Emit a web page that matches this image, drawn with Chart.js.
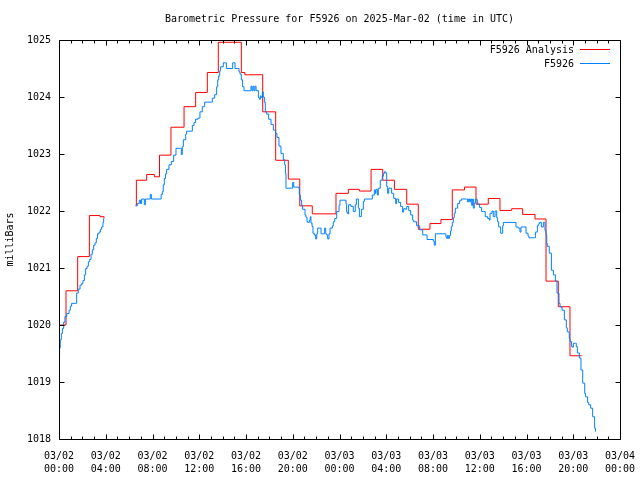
<!DOCTYPE html>
<html>
<head>
<meta charset="utf-8">
<title>Barometric Pressure for F5926</title>
<script src="https://cdn.jsdelivr.net/npm/chart.js@4.4.1/dist/chart.umd.min.js"></script>
<style>
  html, body { margin: 0; padding: 0; background: #fff; }
  #chart { display: block; }
</style>
</head>
<body>
<canvas id="chart" width="640" height="480"></canvas>
<script>
// times are hours since 2025-03-02 00:00 UTC, null value = no data
const analysisHours = [0, 0.6, 1.6, 2.6, 3.5, 3.85, 5,
  6.55, 6.62, 7.5, 8.16, 8.6, 9.58, 10.7, 11.69, 12.69, 13.63, 15.6, 15.9, 17.43, 18.54, 19.62,
  20.6, 21.67, 23.7, 24.76, 25.7, 26.7, 27.7, 28.7, 29.75, 30.74, 31.74, 32.68, 33.65, 34.7,
  35.68, 36.73, 37.73, 38.73, 39.67, 40.73, 41.67, 42.72, 43.72, 44.72];
const analysisValues = [1020.0, 1020.6, 1021.2, 1021.92, 1021.9, 1021.87, null,
  1022.1, 1022.54, 1022.64, 1022.6, 1022.98, 1023.47, 1023.83, 1024.08, 1024.43, 1024.96, 1024.43, 1024.39, 1023.74, 1022.89, 1022.56,
  1022.09, 1021.95, 1022.31, 1022.38, 1022.35, 1022.73, 1022.54, 1022.38, 1022.12, 1021.68, 1021.78, 1021.85, 1022.37, 1022.42,
  1022.12, 1022.22, 1022.01, 1022.04, 1021.94, 1021.86, 1020.77, 1020.32, 1019.46, 1019.46];

const obsHours = [0, 0.05, 0.11, 0.2, 0.29, 0.4, 0.51, 0.66, 0.86, 0.97, 1.08, 1.43, 1.51, 1.65, 1.8, 1.95,
  2.05, 2.17, 2.28, 2.4, 2.51, 2.62, 2.74, 2.85, 2.97, 3.08, 3.19, 3.3, 3.42, 3.54, 3.65, 3.76, 3.82, 5,
  6.56, 6.7, 6.87, 6.97, 7.07, 7.3, 7.39, 7.73, 7.81, 7.9, 8.64, 8.74, 8.84, 8.92, 9.01, 9.11, 9.21, 9.41,
  9.61, 9.81, 10.01, 10.41, 10.47, 10.55, 10.64, 10.84, 10.92, 11.21, 11.41, 11.55, 11.69, 11.89, 12.06,
  12.26, 12.46, 13.03, 13.12, 13.32, 13.49, 13.58, 13.66, 13.75, 13.83, 14.06, 14.23, 14.32, 14.63, 14.86,
  14.97, 15.06, 15.26, 15.4, 15.49, 15.6, 15.71, 15.83, 16.34, 16.43, 16.51, 16.6, 16.68, 16.77, 16.86,
  17.06, 17.14, 17.23, 17.31, 17.4, 17.48, 17.57, 17.65, 17.77, 17.94, 18.14, 18.34, 18.54, 18.65, 18.82,
  18.99, 19.19, 19.31, 19.37, 19.42, 19.91, 19.99, 20.08, 20.51, 20.56, 20.65, 20.76, 20.85, 21.05, 21.13,
  21.22, 21.3, 21.42, 21.5, 21.56, 21.65, 21.73, 21.85, 21.96, 22.05, 22.13, 22.33, 22.42, 22.62, 22.73,
  22.82, 22.9, 22.99, 23.1, 23.19, 23.39, 23.47, 23.59, 23.76, 23.96, 24.04, 24.47, 24.56, 24.61, 24.7,
  24.78, 24.98, 25.18, 25.35, 25.44, 25.61, 25.7, 25.87, 26.04, 26.13, 26.61, 26.81, 26.98, 27.07, 27.12,
  27.24, 27.32, 27.49, 27.66, 27.75, 27.84, 27.92, 28.04, 28.12, 28.21, 28.46, 28.64, 28.81, 28.89, 29.06,
  29.23, 29.4, 29.49, 29.66, 29.75, 29.92, 30.09, 30.26, 30.35, 30.6, 30.86, 31.12, 31.49, 31.74, 32.03,
  32.11, 32.2, 33.05, 33.11, 33.17, 33.23, 33.31, 33.4, 33.5, 33.57, 33.65, 33.74, 33.82, 33.91, 34.11,
  34.28, 34.42, 34.88, 34.96, 35.05, 35.14, 35.22, 35.31, 35.39, 35.45, 35.53, 35.62, 35.75, 35.82, 35.99,
  36.16, 36.3, 36.47, 36.68, 36.82, 36.88, 37.05, 37.16, 37.31, 37.45, 37.53, 37.62, 37.79, 37.96, 38.02,
  38.93, 39.1, 39.27, 39.44, 39.53, 39.78, 39.96, 40.13, 40.21, 40.67, 40.76, 40.93, 41.01, 41.1, 41.27,
  41.44, 41.58, 41.67, 41.73, 41.78, 41.95, 42.13, 42.3, 42.47, 42.61, 42.78, 42.87, 43.04, 43.24, 43.41,
  43.49, 43.66, 43.72, 43.86, 43.95, 44.01, 44.18, 44.26, 44.35, 44.52, 44.66, 44.81, 44.98, 45.06, 45.23,
  45.32, 45.49, 45.66, 45.83, 45.91];
const obsValues = [1019.44, 1019.6, 1019.74, 1019.85, 1019.94, 1020.05, 1020.15, 1020.2, 1020.26, 1020.33, 1020.38, 1020.38, 1020.56, 1020.63, 1020.7, 1020.73,
  1020.78, 1020.88, 1020.99, 1021.03, 1021.11, 1021.15, 1021.24, 1021.32, 1021.4, 1021.44, 1021.52, 1021.6, 1021.63, 1021.68, 1021.72, 1021.8, 1021.87, null,
  1022.09, 1022.13, 1022.19, 1022.13, 1022.21, 1022.11, 1022.21, 1022.21, 1022.29, 1022.21, 1022.21, 1022.29, 1022.34, 1022.46, 1022.57, 1022.65, 1022.73, 1022.81,
  1022.87, 1022.98, 1023.1, 1023.1, 1022.99, 1023.13, 1023.25, 1023.35, 1023.4, 1023.4, 1023.5, 1023.55, 1023.61, 1023.63, 1023.74,
  1023.83, 1023.91, 1023.91, 1023.98, 1024.04, 1024.18, 1024.3, 1024.37, 1024.46, 1024.53, 1024.6, 1024.6, 1024.5, 1024.5, 1024.6,
  1024.6, 1024.5, 1024.5, 1024.44, 1024.4, 1024.3, 1024.18, 1024.11, 1024.11, 1024.19, 1024.11, 1024.19, 1024.11, 1024.19, 1024.11,
  1023.99, 1023.96, 1024.02, 1023.99, 1024.09, 1024.0, 1023.91, 1023.74, 1023.7, 1023.61, 1023.52, 1023.42, 1023.36, 1023.29, 1023.14,
  1023.01, 1022.9, 1022.81, 1022.66, 1022.4, 1022.4, 1022.5, 1022.42, 1022.4, 1022.28, 1022.19, 1022.1, 1022.03, 1021.93, 1021.89,
  1021.81, 1021.8, 1021.84, 1021.9, 1021.79, 1021.73, 1021.61, 1021.58, 1021.51, 1021.6, 1021.7, 1021.7, 1021.6, 1021.6, 1021.7,
  1021.6, 1021.58, 1021.51, 1021.6, 1021.7, 1021.74, 1021.81, 1021.87, 1021.99, 1022.1, 1022.19, 1022.19, 1022.12, 1021.98, 1021.95,
  1022.11, 1022.08, 1021.99, 1022.11, 1022.21, 1022.05, 1021.9, 1022.03, 1022.17, 1022.21, 1022.21, 1022.28, 1022.37, 1022.31, 1022.38,
  1022.28, 1022.4, 1022.54, 1022.61, 1022.66, 1022.69, 1022.67, 1022.43, 1022.31, 1022.4, 1022.31, 1022.22, 1022.13, 1022.21, 1022.15,
  1022.08, 1021.98, 1022.04, 1022.03, 1022.08, 1022.01, 1021.93, 1021.84, 1021.81, 1021.74, 1021.67, 1021.58, 1021.5, 1021.5, 1021.47,
  1021.4, 1021.6, 1021.6, 1021.54, 1021.52, 1021.57, 1021.52, 1021.57, 1021.65, 1021.73, 1021.8, 1021.88, 1021.96, 1022.05, 1022.13,
  1022.18, 1022.21, 1022.21, 1022.16, 1022.21, 1022.16, 1022.21, 1022.1, 1022.21, 1022.05, 1022.14, 1022.21, 1022.19, 1022.12, 1022.06,
  1021.99, 1021.99, 1021.9, 1021.87, 1021.84, 1021.96, 1022.0, 1021.9, 1022.0, 1021.88, 1021.81, 1021.72, 1021.61, 1021.74, 1021.8,
  1021.8, 1021.72, 1021.7, 1021.63, 1021.72, 1021.72, 1021.61, 1021.56, 1021.53, 1021.53, 1021.63, 1021.74, 1021.77, 1021.8, 1021.72,
  1021.8, 1021.66, 1021.58, 1021.43, 1021.38, 1021.26, 1020.96, 1020.88, 1020.77, 1020.56, 1020.38, 1020.32, 1020.26, 1020.09, 1019.95,
  1019.88, 1019.76, 1019.71, 1019.62, 1019.61, 1019.68, 1019.68, 1019.62, 1019.51, 1019.42, 1019.21, 1018.98, 1018.8, 1018.74, 1018.64,
  1018.6, 1018.54, 1018.39, 1018.19, 1018.13];

const xTickHours = [0, 4, 8, 12, 16, 20, 24, 28, 32, 36, 40, 44, 48];
const xTickLabels = [["03/02", "00:00"], ["03/02", "04:00"], ["03/02", "08:00"], ["03/02", "12:00"],
  ["03/02", "16:00"], ["03/02", "20:00"], ["03/03", "00:00"], ["03/03", "04:00"], ["03/03", "08:00"],
  ["03/03", "12:00"], ["03/03", "16:00"], ["03/03", "20:00"], ["03/04", "00:00"]];
const yTicks = [1018, 1019, 1020, 1021, 1022, 1023, 1024, 1025];

const titleText = "Barometric Pressure for F5926 on 2025-Mar-02 (time in UTC)";
const yAxisText = "milliBars";
const seriesNames = ["F5926 Analysis", "F5926"];
const seriesColors = ["#ff0000", "#0080ff"];
const monoFont = '10px "DejaVu Sans Mono", "Liberation Mono", monospace';

function toPoints(xs, ys) {
  return xs.map((h, i) => ({ x: h, y: ys[i] }));
}

// gnuplot-style frame, inward ticks, title, y label and legend
const gnuFrame = {
  id: 'gnuFrame',
  afterDraw(chart) {
    const ctx = chart.ctx;
    const a = chart.chartArea;
    const xs = chart.scales.x;
    const ys = chart.scales.y;
    const L = Math.round(a.left) + 0.5, R = Math.round(a.right) + 0.5;
    const T = Math.round(a.top) + 0.5, B = Math.round(a.bottom) + 0.5;
    ctx.save();
    ctx.strokeStyle = '#000';
    ctx.lineWidth = 1;
    ctx.beginPath();
    ctx.rect(L, T, R - L, B - T);
    for (let h = 0; h <= 48; h++) {
      const px = Math.round(xs.getPixelForValue(h)) + 0.5;
      const len = h % 4 === 0 ? 5 : 3;
      ctx.moveTo(px, B); ctx.lineTo(px, B - len);
      ctx.moveTo(px, T); ctx.lineTo(px, T + len);
    }
    yTicks.forEach(v => {
      const py = Math.round(ys.getPixelForValue(v)) + 0.5;
      ctx.moveTo(L, py); ctx.lineTo(L + 5, py);
      ctx.moveTo(R, py); ctx.lineTo(R - 5, py);
    });
    ctx.stroke();

    ctx.fillStyle = '#000';
    ctx.font = monoFont;
    ctx.textBaseline = 'middle';
    ctx.textAlign = 'center';
    ctx.fillText(titleText, (a.left + a.right) / 2, 19);

    ctx.save();
    ctx.translate(10, (a.top + a.bottom) / 2);
    ctx.rotate(-Math.PI / 2);
    ctx.fillText(yAxisText, 0, 0);
    ctx.restore();

    ctx.textAlign = 'right';
    seriesNames.forEach((name, i) => {
      const ty = 49 + i * 14;
      ctx.fillStyle = '#000';
      ctx.fillText(name, 574, ty + 1);
      ctx.strokeStyle = seriesColors[i];
      ctx.beginPath();
      ctx.moveTo(580, ty + 0.5);
      ctx.lineTo(610, ty + 0.5);
      ctx.stroke();
    });
    ctx.restore();
  }
};

new Chart(document.getElementById('chart'), {
  type: 'line',
  data: {
    datasets: [
      {
        label: seriesNames[0],
        data: toPoints(analysisHours, analysisValues),
        borderColor: seriesColors[0],
        borderWidth: 1,
        pointRadius: 0,
        stepped: true,
        order: 1
      },
      {
        label: seriesNames[1],
        data: toPoints(obsHours, obsValues),
        borderColor: seriesColors[1],
        borderWidth: 1,
        pointRadius: 0,
        stepped: true,
        order: 0
      }
    ]
  },
  options: {
    responsive: false,
    animation: false,
    layout: { padding: { top: 40, right: 20, left: 0, bottom: 0 } },
    plugins: {
      legend: { display: false },
      title: { display: false },
      tooltip: { enabled: false }
    },
    scales: {
      x: {
        type: 'linear',
        min: 0,
        max: 48,
        border: { display: false },
        grid: { display: false, drawTicks: true, tickLength: 11 },
        afterBuildTicks: scale => { scale.ticks = xTickHours.map(v => ({ value: v })); },
        afterFit: scale => { scale.height = 41; scale.paddingLeft = 0; scale.paddingRight = 0; },
        ticks: {
          padding: 0,
          maxRotation: 0,
          autoSkip: false,
          color: '#000',
          font: { family: '"DejaVu Sans Mono", monospace', size: 10, lineHeight: 1.3 },
          callback: v => xTickLabels[xTickHours.indexOf(v)]
        }
      },
      y: {
        min: 1018,
        max: 1025,
        border: { display: false },
        grid: { display: false, drawTicks: false },
        afterBuildTicks: scale => { scale.ticks = yTicks.map(v => ({ value: v })); },
        afterFit: scale => { scale.width = 59; },
        ticks: {
          padding: 8,
          color: '#000',
          font: { family: '"DejaVu Sans Mono", monospace', size: 10 },
          callback: v => String(v)
        }
      }
    }
  },
  plugins: [gnuFrame]
});
</script>
</body>
</html>
